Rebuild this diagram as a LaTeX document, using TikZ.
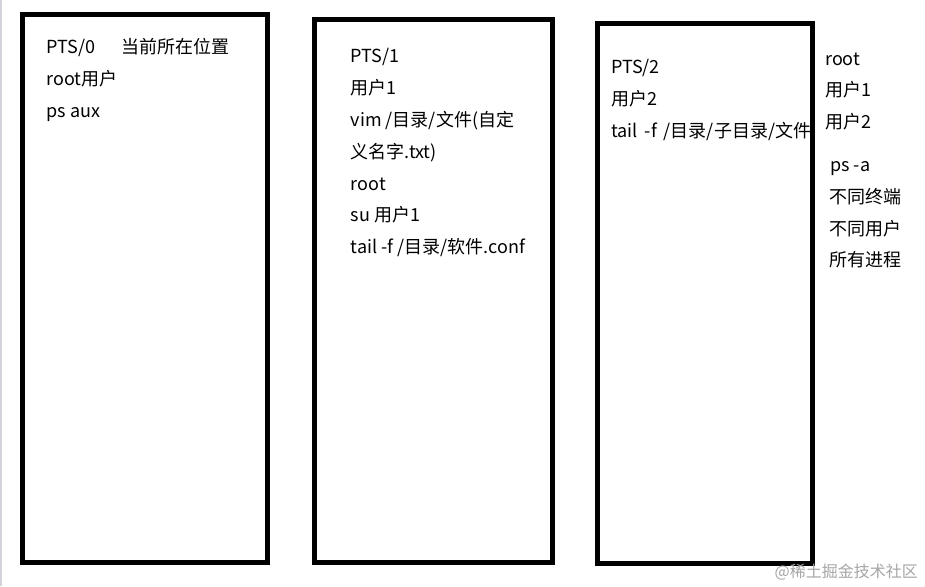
\documentclass[tikz,border=0pt]{standalone}
\usepackage{fontspec}
\newfontfamily\cjk{Noto Sans CJK SC}
\usetikzlibrary{positioning}

\tikzset{
  term/.style={line width=5pt},
  txt/.style={anchor=base west, inner sep=0pt, font=\cjk\fontsize{18}{20}\selectfont},
  wmark/.style={anchor=base east, inner sep=0pt, text=gray!70, font=\cjk\fontsize{16}{18}\selectfont}
}

\begin{document}
\begin{tikzpicture}[x=1pt,y=-1pt]
\useasboundingbox[fill=white] (0,0) rectangle (925,586);
\draw[line width=2pt, draw=blue!15!gray!30] (1,0) -- (1,586);
% PTS/0
\node[txt] (t0a) at (46.5,53.3) {PTS/0}; \node[txt] (t0b) at (121.7,53.3) {当前所在位置};
\node[txt] (t0c) at (46.5,85.5) {root用户};
\node[txt] (t0d) at (46.5,117.3) {ps aux};
% PTS/1
\node[txt] (t1a) at (350.7,62.7) {PTS/1};
\node[txt] (t1b) at (350.7,94.5) {用户1};
\node[txt] (t1c) at (350.7,126.5) {vim /目录/文件(自定};
\node[txt] (t1d) at (350.7,158.2) {义名字.txt)};
\node[txt] (t1e) at (350.7,190) {root};
\node[txt] (t1f) at (350.7,221.7) {su 用户1};
\node[txt] (t1g) at (350.7,253.4) {tail -f /目录/软件.conf};
% PTS/2
\node[txt] (t2a) at (611,74) {PTS/2};
\node[txt] (t2b) at (611,105.8) {用户2};
\node[txt] (t2c) at (611,137.6) {tail\, -f\, /目录/子目录/文件};
% side notes
\node[txt] (s1) at (825,65) {root};
\node[txt] (s2) at (825,96.7) {用户1};
\node[txt] (s3) at (825,128.3) {用户2};
\node[txt] (s4) at (830,171.5) {ps -a};
\node[txt] (s5) at (829.5,203.3) {不同终端};
\node[txt] (s6) at (829.5,235) {不同用户};
\node[txt] (s7) at (829.5,266.7) {所有进程};
% terminals
\draw[term] (22.5,14.5) rectangle (267,562);
\draw[term] (314.5,19.5) rectangle (552.5,562);
\draw[term] (597,23.5) rectangle (812,563.5);
\node[wmark] (wm) at (918,577) {@稀土掘金技术社区};
\end{tikzpicture}
\end{document}
